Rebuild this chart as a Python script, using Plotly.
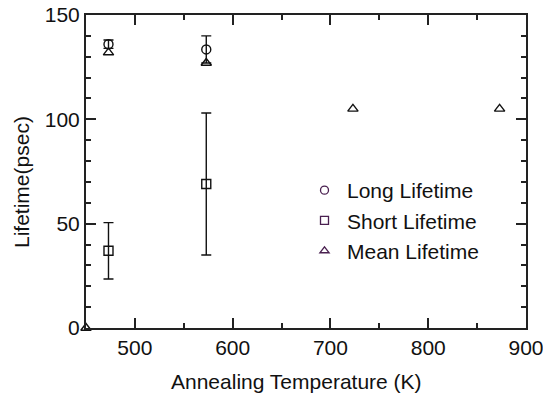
import plotly.graph_objects as go

temps_long = [473, 573]
long_life = [136, 133.5]
long_err = [2, 6.5]

temps_short = [473, 573]
short_life = [37, 69]
short_err = [13.5, 34]

temps_mean = [450, 473, 573, 723, 873]
mean_life = [0, 132, 127, 105, 105]

FONT = "Liberation Sans, Arial, sans-serif"
BLACK = "#111111"
LEG = "#4a2050"

fig = go.Figure()
mk = dict(color=BLACK, size=9, line=dict(color=BLACK, width=1.4))
eb = dict(type="data", thickness=1.4, width=5, color=BLACK)

fig.add_trace(go.Scatter(x=temps_long, y=long_life, mode="markers", showlegend=False,
                         marker=dict(symbol="circle-open", **mk),
                         error_y=dict(array=long_err, **eb), cliponaxis=False))
fig.add_trace(go.Scatter(x=temps_short, y=short_life, mode="markers", showlegend=False,
                         marker=dict(symbol="square-open", **mk),
                         error_y=dict(array=short_err, **eb), cliponaxis=False))
fig.add_trace(go.Scatter(x=temps_mean, y=mean_life, mode="markers", showlegend=False,
                         marker=dict(symbol="triangle-up-open", **mk), cliponaxis=False))

for name, sym in [("Long Lifetime", "circle-open"), ("Short Lifetime", "square-open"),
                  ("Mean Lifetime", "triangle-up-open")]:
    fig.add_trace(go.Scatter(x=[None], y=[None], mode="markers", name=name,
                             marker=dict(symbol=sym, size=8, color=LEG, line=dict(color=LEG, width=1.3))))

axis_common = dict(showgrid=False, zeroline=False, showline=True, linecolor="#222222", linewidth=2,
                   mirror="ticks", ticks="inside", ticklen=10, tickwidth=1.5, tickcolor="#222222",
                   automargin=False, ticklabeloverflow="allow",
                   tickfont=dict(family=FONT, size=21, color=BLACK))

fig.update_xaxes(range=[450, 900], tickvals=[500, 600, 700, 800, 900],
                 minor=dict(ticks="inside", ticklen=5, tickwidth=1.5, tickcolor="#222222", dtick=50, tick0=450),
                 **axis_common)
fig.update_yaxes(range=[0, 150], tickvals=[0, 50, 100, 150],
                 minor=dict(ticks="inside", ticklen=5, tickwidth=1.5, tickcolor="#222222", dtick=10, tick0=0),
                 **axis_common)

fig.add_annotation(text="Annealing Temperature (K)", xref="paper", yref="paper",
                   x=(296 - 86) / 440, y=-(381 - 328) / 313, showarrow=False,
                   font=dict(family=FONT, size=21, color=BLACK), xanchor="center", yanchor="middle")
fig.add_annotation(text="Lifetime(psec)", xref="paper", yref="paper", textangle=-90,
                   x=-(86 - 22) / 440, y=(328 - 182) / 313, showarrow=False,
                   font=dict(family=FONT, size=21, color=BLACK), xanchor="center", yanchor="middle")

fig.update_layout(
    template="none",
    width=543, height=398,
    margin=dict(l=86, r=17, t=15, b=70),
    plot_bgcolor="white", paper_bgcolor="white",
    font=dict(family=FONT, size=21, color=BLACK),
    legend=dict(x=(302 - 86) / 440, y=(328 - 170) / 313, xanchor="left", yanchor="top",
                bgcolor="rgba(0,0,0,0)", font=dict(family=FONT, size=21, color=BLACK),
                itemwidth=35, tracegroupgap=0),
)

# remove the default 8px page margin so the figure fills the window exactly
fig.write_html("out.html", config={"displayModeBar": False},
               post_script="document.body.style.margin='0px';document.body.style.overflow='hidden';")
